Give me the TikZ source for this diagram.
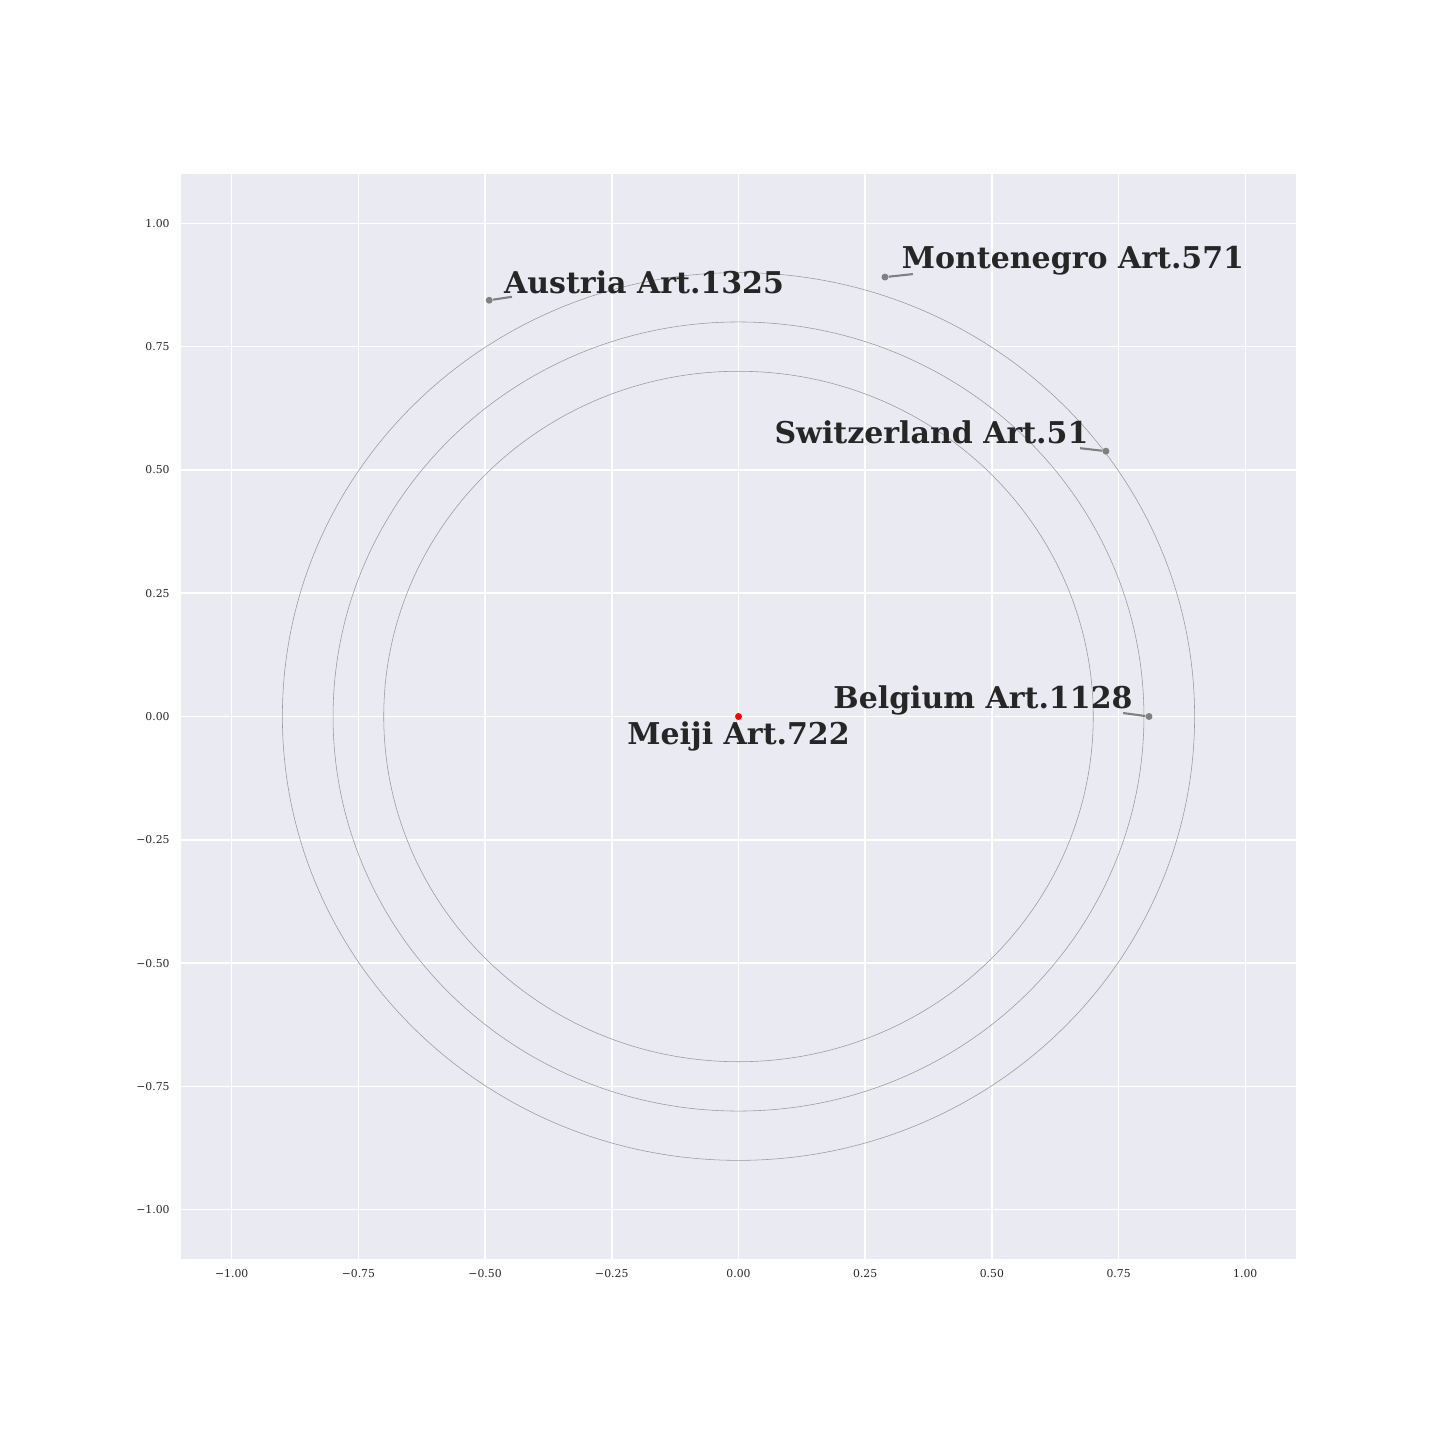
\documentclass[tikz,border=0pt]{standalone}
\usepackage{fontspec}
\setmainfont{DejaVu Serif}
\usepackage{xcolor}
\usepackage{tikz}
\usetikzlibrary{positioning,calc}
\definecolor{axbg}{HTML}{EAEAF2}
\definecolor{txtgray}{HTML}{262626}
\definecolor{ptgray}{HTML}{808080}
\tikzset{
  gridline/.style={white,line width=1.05pt},
  orbit/.style={black!40,line width=0.4pt},
  ticklbl/.style={text=txtgray,font=\fontsize{7.8}{9}\selectfont,inner sep=0pt},
  artlbl/.style={text=txtgray,font=\fontsize{21.6}{26}\selectfont\bfseries,inner sep=0pt},
  artpt/.style={circle,fill=ptgray,inner sep=0pt,minimum size=5pt},
  leader/.style={ptgray,line width=1.5pt},
}

\begin{document}
\begin{tikzpicture}[x=364.9pt,y=355.1pt]
\useasboundingbox (-1.4572,-1.4670) rectangle (1.3842,1.4528);
\fill[axbg] (-1.1,-1.1) rectangle (1.1,1.1);
% grid and ticks
\foreach \v/\t in {-1/−1.00,-0.75/−0.75,-0.5/−0.50,-0.25/−0.25,0/0.00,0.25/0.25,0.5/0.50,0.75/0.75,1/1.00}{
  \draw[gridline] (\v,-1.1) -- (\v,1.1);
  \draw[gridline] (-1.1,\v) -- (1.1,\v);
  \node[ticklbl,anchor=east] at (-1.122,\v) {\t};
  \node[ticklbl] at (\v,-1.130) {\t};
}
% orbits
\foreach \r in {0.7,0.8,0.9}
  \draw[orbit] (0,0) circle [radius=\r];
%\draw[orbit] (0,0) circle [radius=1.0];
% points
\node[artpt,fill=red] (pMeiji) at (0,0) {};
\node[artpt] (pBelgium) at (0.810,0.0) {};
\node[artpt] (pSwiss) at (0.725,0.538) {};
\node[artpt] (pMonte) at (0.289,0.891) {};
\node[artpt] (pAustria) at (-0.492,0.844) {};
\coordinate (eBelgium) at (0.759,0.007);
\coordinate (eSwiss) at (0.674,0.544);
\coordinate (eMonte) at (0.344,0.897);
\coordinate (eAustria) at (-0.447,0.851);
\draw[leader] (pBelgium) -- (eBelgium);
\draw[leader] (pSwiss) -- (eSwiss);
\draw[leader] (pMonte) -- (eMonte);
\draw[leader] (pAustria) -- (eAustria);
% labels
\node[artlbl,anchor=base] (lMeiji) at (0,-0.057) {Meiji Art.722};
\node[artlbl,anchor=base east] (lBelgium) at (0.778,0.016) {Belgium Art.1128};
\node[artlbl,anchor=base east] (lSwiss) at (0.691,0.553) {Switzerland Art.51};
\node[artlbl,anchor=base west] (lMonte) at (0.322,0.908) {Montenegro Art.571};
\node[artlbl,anchor=base west] (lAustria) at (-0.463,0.857) {Austria Art.1325};
\end{tikzpicture}
\end{document}
